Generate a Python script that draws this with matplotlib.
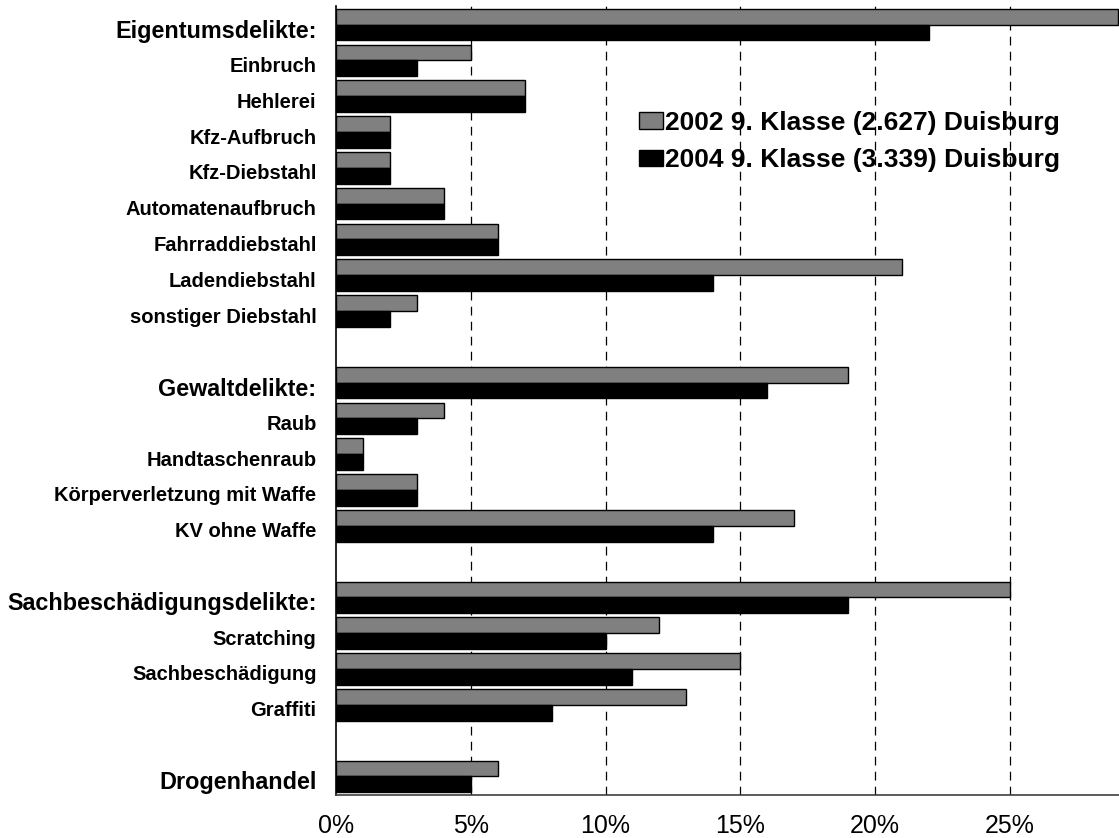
import matplotlib
matplotlib.use("Agg")
import matplotlib.pyplot as plt
import matplotlib.transforms as mtransforms
from matplotlib.patches import Patch

plt.rcParams['font.family'] = ['Liberation Sans', 'DejaVu Sans']

# ---- data ----
group_headers = ["Eigentumsdelikte:", "Gewaltdelikte:", "Sachbeschädigungsdelikte:", "Drogenhandel"]
group_items = [
    ["Einbruch", "Hehlerei", "Kfz-Aufbruch", "Kfz-Diebstahl", "Automatenaufbruch",
     "Fahrraddiebstahl", "Ladendiebstahl", "sonstiger Diebstahl"],
    ["Raub", "Handtaschenraub", "Körperverletzung mit Waffe", "KV ohne Waffe"],
    ["Scratching", "Sachbeschädigung", "Graffiti"],
    [],
]
# values in percent, in order header, items... per group
values_2002 = [29, 5, 7, 2, 2, 4, 6, 21, 3,
               19, 4, 1, 3, 17,
               25, 12, 15, 13,
               6]
values_2004 = [22, 3, 7, 2, 2, 4, 6, 14, 2,
               16, 3, 1, 3, 14,
               19, 10, 11, 8,
               5]
series_labels = ["2002 9. Klasse (2.627) Duisburg", "2004 9. Klasse (3.339) Duisburg"]
xticks = [0, 5, 10, 15, 20, 25]
xtick_labels = ["0%", "5%", "10%", "15%", "20%", "25%"]

# ---- layout of rows (blank row between groups) ----
labels, is_header, ypos = [], [], []
row = 0
for gi, (h, items) in enumerate(zip(group_headers, group_items)):
    labels.append(h); is_header.append(True); ypos.append(row); row += 1
    for it in items:
        labels.append(it); is_header.append(False); ypos.append(row); row += 1
    row += 1  # blank row

W, H = 1119, 838
fig = plt.figure(figsize=(W / 100, H / 100), dpi=100)
ax = fig.add_axes([336 / W, 43 / H, 1 - 336 / W, (795 - 6) / H])

bh = 0.44
y1 = [y - bh / 2 for y in ypos]
y2 = [y + bh / 2 for y in ypos]
ax.barh(y1, values_2002, height=bh, color="#808080", edgecolor="black", linewidth=1.0, zorder=3)
ax.barh(y2, values_2004, height=bh, color="black", edgecolor="black", linewidth=1.0, zorder=3)

ax.set_xlim(0, 29.05)
ax.set_ylim(21.52, -0.52)

ax.set_xticks(xticks)
ax.set_xticklabels(xtick_labels, fontsize=18)
ax.tick_params(axis='x', length=0, pad=14)
ax.set_yticks(ypos)
ax.set_yticklabels(labels)
ax.tick_params(axis='y', length=0, pad=14)
off = mtransforms.ScaledTranslation(0, -4 / 100, fig.dpi_scale_trans)
for lab, hdr in zip(ax.get_yticklabels(), is_header):
    lab.set_fontweight('bold')
    lab.set_fontsize(16.8 if hdr else 14.5)
    lab.set_transform(lab.get_transform() + off)

for x in xticks[1:]:
    ax.axvline(x, color="black", linewidth=0.9, linestyle=(0, (7, 5)), zorder=1)

for s in ['top', 'right']:
    ax.spines[s].set_visible(False)
ax.spines['left'].set_color('black')
ax.spines['left'].set_linewidth(1.2)
ax.spines['bottom'].set_color('#404040')
ax.spines['bottom'].set_linewidth(1.2)

handles = [Patch(facecolor="#808080", edgecolor="black", linewidth=1.0),
           Patch(facecolor="black", edgecolor="black", linewidth=1.0)]
fig.legend(handles, series_labels, loc='upper left',
           bbox_to_anchor=(639 / W, 1 - 111 / H), frameon=False,
           prop={'weight': 'bold', 'size': 19}, handlelength=0.91, handleheight=0.6,
           handletextpad=0.08, labelspacing=0.5, borderpad=0, borderaxespad=0)

fig.savefig("out.png", dpi=100)
